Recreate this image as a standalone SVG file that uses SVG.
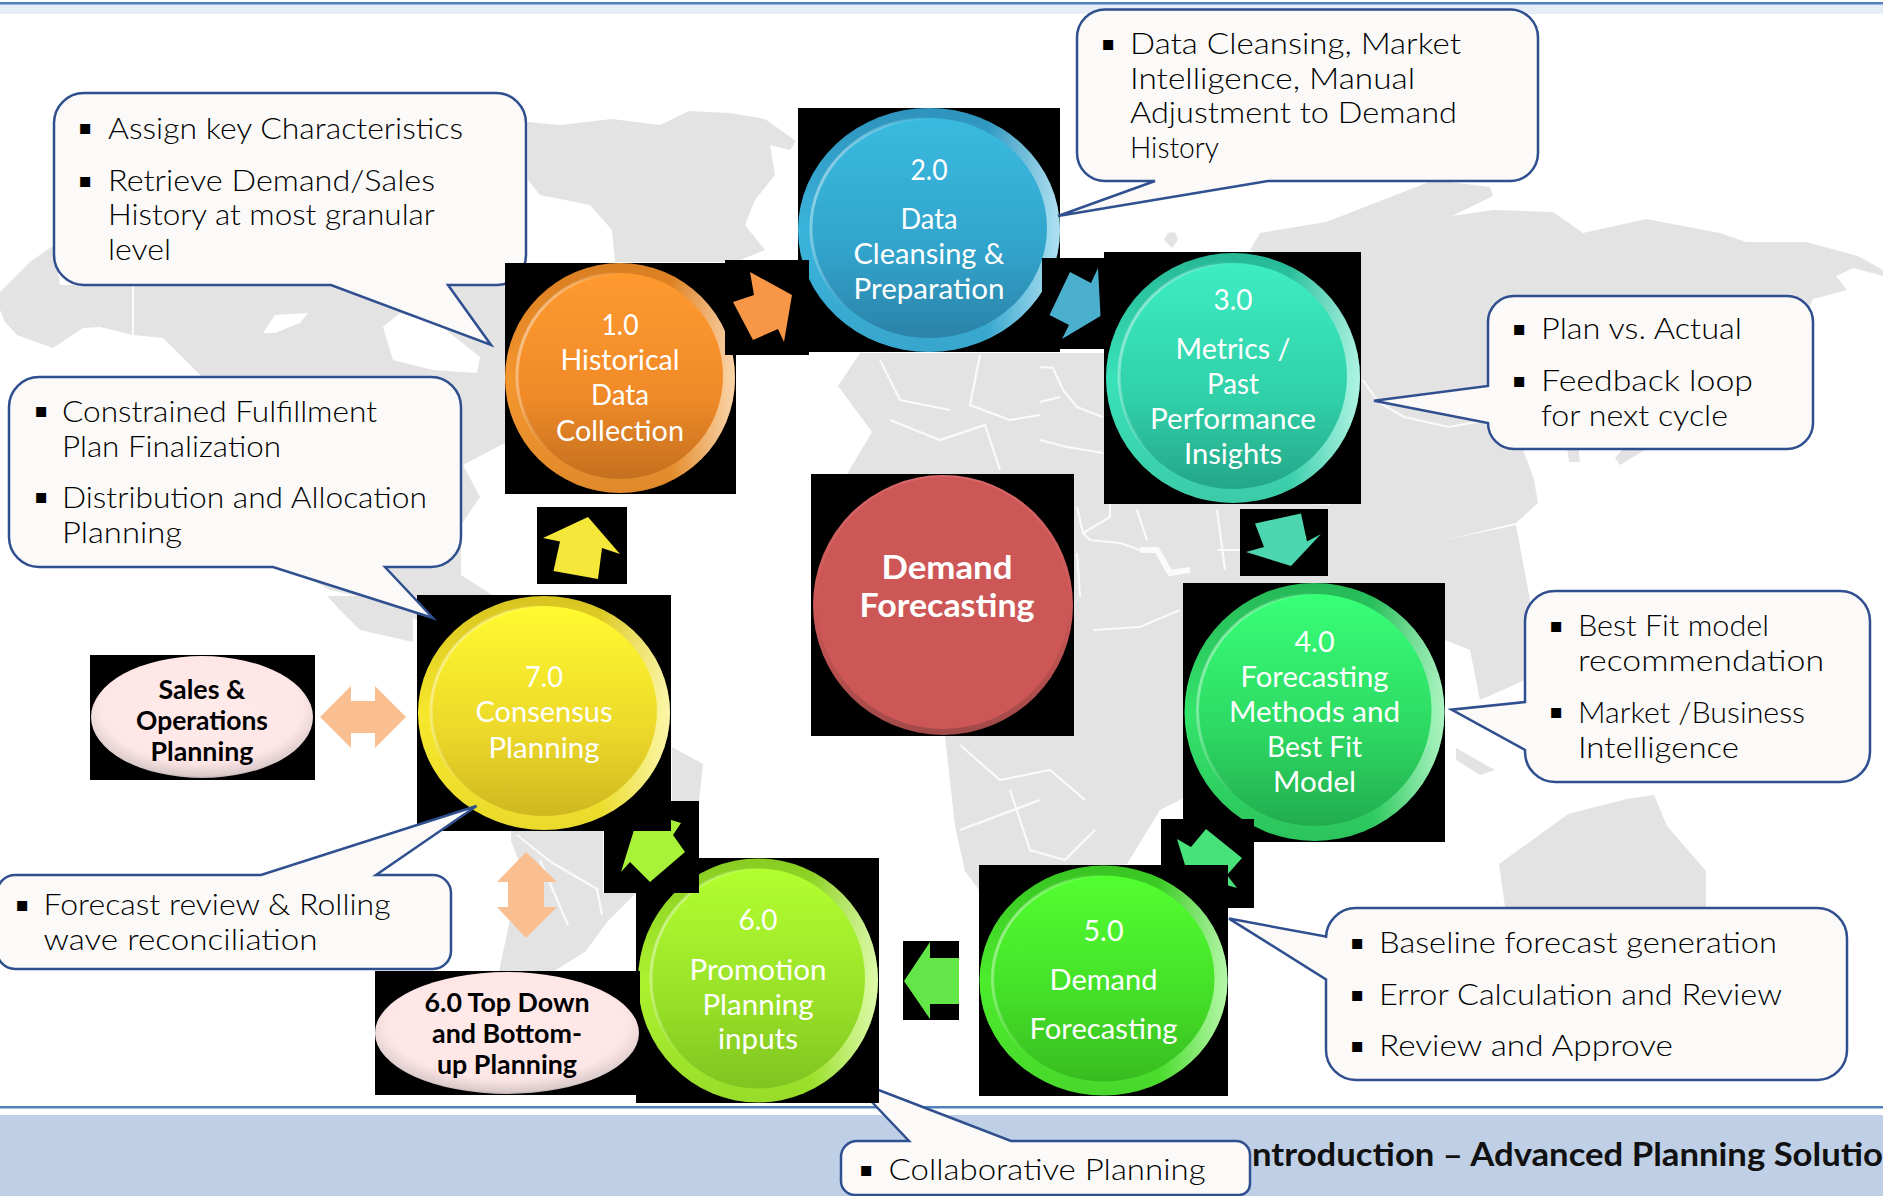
<svg xmlns="http://www.w3.org/2000/svg" width="1883" height="1196" viewBox="0 0 1883 1196">
<style>
.map{fill:#E3E3E3}
.bd{fill:none;stroke:#FAFAFA;stroke-width:2.2}
.co{fill:#FBFAF8;stroke:#2F4F8F;stroke-width:2.5}
.t{font-family:"Lato","Open Sans",sans-serif;font-size:30px;font-weight:300;fill:#000}
.b{font-family:"DejaVu Sans",sans-serif;font-size:20px;fill:#000;text-anchor:middle}
.n{font-family:"Lato","Open Sans",sans-serif;font-size:29px;fill:#fff;text-anchor:middle}
.p{font-family:"Lato","Open Sans",sans-serif;font-size:27px;font-weight:700;fill:#000;text-anchor:middle}
.c{font-family:"Lato","Open Sans",sans-serif;font-size:33px;font-weight:700;fill:#fff;text-anchor:middle}
.f{font-family:"Lato","Open Sans",sans-serif;font-size:33px;font-weight:700;fill:#111}
.k{fill:#000}
.s{fill:none;stroke:url(#shine);stroke-width:3}
.h{fill:url(#rim)}
.r{fill:url(#pink)}
</style>
<defs>
<linearGradient id="shine" x1="0" y1="0.1" x2="1" y2="0.5"><stop offset="0" stop-color="#fff" stop-opacity=".55"/><stop offset=".4" stop-color="#fff" stop-opacity="0"/></linearGradient>
<linearGradient id="rim" x1="0.3" y1="0.5" x2="1" y2="0.5"><stop offset=".6" stop-color="#fff" stop-opacity="0"/><stop offset="1" stop-color="#fff" stop-opacity=".6"/></linearGradient>
<radialGradient id="pink" cx=".5" cy=".42" r=".6"><stop offset="0" stop-color="#FFEAEA"/><stop offset=".76" stop-color="#FFE6E6"/><stop offset=".93" stop-color="#DCCCCC"/><stop offset="1" stop-color="#A89A9A"/></radialGradient>
<linearGradient id="o1" x1="0" y1="0" x2="0" y2="1"><stop offset="0" stop-color="#D97E22"/><stop offset=".5" stop-color="#F4962E"/><stop offset="1" stop-color="#E08A2C"/></linearGradient>
<linearGradient id="i1" x1="0" y1="0" x2="0" y2="1"><stop offset="0" stop-color="#FF9A30"/><stop offset=".6" stop-color="#F08A28"/><stop offset="1" stop-color="#C4701F"/></linearGradient>
<linearGradient id="o2" x1="0" y1="0" x2="0" y2="1"><stop offset="0" stop-color="#2E93BC"/><stop offset=".5" stop-color="#3AB4DC"/><stop offset="1" stop-color="#38A6CC"/></linearGradient>
<linearGradient id="i2" x1="0" y1="0" x2="0" y2="1"><stop offset="0" stop-color="#3ABAE0"/><stop offset=".6" stop-color="#32A4CC"/><stop offset="1" stop-color="#2B82A8"/></linearGradient>
<linearGradient id="o3" x1="0" y1="0" x2="0" y2="1"><stop offset="0" stop-color="#27B896"/><stop offset=".5" stop-color="#38E2B8"/><stop offset="1" stop-color="#3CCBA8"/></linearGradient>
<linearGradient id="i3" x1="0" y1="0" x2="0" y2="1"><stop offset="0" stop-color="#3EEDC2"/><stop offset=".6" stop-color="#30D0A8"/><stop offset="1" stop-color="#24A688"/></linearGradient>
<linearGradient id="o4" x1="0" y1="0" x2="0" y2="1"><stop offset="0" stop-color="#26B858"/><stop offset=".5" stop-color="#33E46A"/><stop offset="1" stop-color="#2CC45C"/></linearGradient>
<linearGradient id="i4" x1="0" y1="0" x2="0" y2="1"><stop offset="0" stop-color="#38FF78"/><stop offset=".6" stop-color="#2DD862"/><stop offset="1" stop-color="#22AC4E"/></linearGradient>
<linearGradient id="o5" x1="0" y1="0" x2="0" y2="1"><stop offset="0" stop-color="#38C422"/><stop offset=".5" stop-color="#4CEC2C"/><stop offset="1" stop-color="#48D82C"/></linearGradient>
<linearGradient id="i5" x1="0" y1="0" x2="0" y2="1"><stop offset="0" stop-color="#52FF30"/><stop offset=".6" stop-color="#44DE28"/><stop offset="1" stop-color="#38BC20"/></linearGradient>
<linearGradient id="o6" x1="0" y1="0" x2="0" y2="1"><stop offset="0" stop-color="#88CC22"/><stop offset=".5" stop-color="#ACF22E"/><stop offset="1" stop-color="#98DC2A"/></linearGradient>
<linearGradient id="i6" x1="0" y1="0" x2="0" y2="1"><stop offset="0" stop-color="#B2FF30"/><stop offset=".6" stop-color="#98E028"/><stop offset="1" stop-color="#80C420"/></linearGradient>
<linearGradient id="o7" x1="0" y1="0" x2="0" y2="1"><stop offset="0" stop-color="#D8C420"/><stop offset=".5" stop-color="#F6E82C"/><stop offset="1" stop-color="#EADA2C"/></linearGradient>
<linearGradient id="i7" x1="0" y1="0" x2="0" y2="1"><stop offset="0" stop-color="#FFFA30"/><stop offset=".6" stop-color="#ECD82A"/><stop offset="1" stop-color="#CFB820"/></linearGradient>
<linearGradient id="o0" x1=".5" y1="0" x2=".5" y2="1"><stop offset="0" stop-color="#D86868"/><stop offset=".5" stop-color="#CD5757"/><stop offset="1" stop-color="#A04A48"/></linearGradient>
</defs>
<rect width="1883" height="1196" fill="#fff"/>
<rect x="0" y="4" width="1883" height="10" fill="#E6EDF7"/>
<rect x="0" y="2" width="1883" height="2.5" fill="#4F81BD"/>
<g id="map">
<path class="map" d="M528,122 L560,125 612,119 660,125 689,111 730,113 765,119 796,141 790,150 770,145 775,175 755,200 745,225 765,250 735,262 615,262 612,230 590,205 540,195 528,180Z"/>
<path class="map" d="M0,292 L30,262 54,245 60,285 505,285 505,443 463,465 480,497 461,525 461,575 500,600 417,620 377,600 330,590 290,568 200,375 163,338 133,335 100,327 83,328 53,348 17,335 5,322 0,310Z"/>
<path class="map" d="M327,596 L413,596 413,642 360,630 340,610Z"/>
<path fill="#fff" d="M383,327 L400,313 440,325 480,357 477,373 433,370 393,360Z"/>
<path fill="#fff" d="M263,333 L275,315 308,313 300,323 275,333Z"/>
<path class="bd" d="M133,285 V335"/>
<path class="map" d="M672,747 L703,764 699,801 672,801Z"/>
<path class="map" d="M511,831 L603,831 603,893 636,893 608,921 585,952 554,971 499,971 508,929 520,864 511,841Z"/>
<path class="bd" d="M517,835 L551,862 597,889 602,915 M540,860 L568,925"/>
<path class="map" d="M860,353 L1104,353 1104,500 1240,500 1330,505 1361,340 1361,290 1250,250 1260,233 1326,222 1357,210 1434,180 1490,187 1493,196 1452,216 1493,210 1553,212 1583,233 1646,219 1720,233 1746,242 1806,242 1858,256 1883,270 1883,276 1854,268 1836,276 1847,290 1813,299 1760,420 1646,410 1612,410 1590,425 1560,431 1519,440 1527,460 1534,480 1538,503 1516,523 1445,540 1445,640 1330,700 1200,790 1160,810 1127,864 982,894 965,871 955,826 945,736 1074,736 1074,474 847,474 872,432 838,386Z"/>
<path class="map" d="M1168,233 L1175,232 1178,240 1172,248 1164,240Z"/>
<path class="map" d="M1445,540 L1516,525 1530,600 1525,680 1480,700 1470,650 1445,640Z"/>
<path class="map" d="M1456,748 L1495,770 1480,775 1456,760Z"/>
<path class="map" d="M1633,437 L1648,432 1645,450 1620,465 1615,458Z"/>
<path class="map" d="M1566,440 L1578,445 1580,462 1569,462Z"/>
<path class="map" d="M1499,864 L1568,814 1627,799 1654,795 1667,826 1706,871 1706,907 1505,907Z"/>
<path class="bd" d="M1363,380 L1378,402 1404,417 1449,427 1482,421 1497,405"/>
<path class="bd" d="M1040,367 L1053,368 1063,390 1077,407 1103,417 M1040,402 L1060,397 M1040,440 L1067,447 1103,453 M880,360 L900,400 950,410 M980,355 L970,405 1010,420 1040,415 M890,420 L940,440 985,425 1000,470 M1077,507 L1083,533 1110,517 1110,500 M1083,533 L1090,540 1120,543 1140,550 M1137,510 L1147,540 M1217,510 L1222,547 1225,570 M1217,550 L1240,550 M1077,553 L1080,597 M1093,630 L1140,627 1180,610 M960,745 L1000,780 1050,770 1085,800 M1010,790 L1030,850 1065,860 1095,830 M960,830 L1040,800"/>
<path d="M1140,550 L1157,550 1170,573 1190,570" fill="none" stroke="#FAFAFA" stroke-width="6"/>
</g>
<rect x="0" y="1115" width="1883" height="81" fill="#BFD0E6"/>
<rect x="0" y="1106" width="1883" height="2.5" fill="#4F81BD"/>
<text class="f" x="1252" y="1166" textLength="631" lengthAdjust="spacingAndGlyphs">ntroduction – Advanced Planning Solutio</text>
<g id="callout-1"><path class="co" d="M84,93 H496 A30,30 0 0 1 526,123 V255 A30,30 0 0 1 496,285 H448 L491,345 L331,285 H84 A30,30 0 0 1 54,255 V123 A30,30 0 0 1 84,93Z"/>
<text class="b" x="85" y="134">▪</text><text class="t" x="108" y="138.500" textLength="355" lengthAdjust="spacingAndGlyphs">Assign key Characteristics</text>
<text class="b" x="85" y="187">▪</text><text class="t" x="108" y="191" textLength="327" lengthAdjust="spacingAndGlyphs">Retrieve Demand/Sales</text>
<text class="t" x="108" y="225" textLength="327" lengthAdjust="spacingAndGlyphs">History at most granular</text>
<text class="t" x="108" y="260" textLength="63" lengthAdjust="spacingAndGlyphs">level</text></g>
<g id="callout-4"><path class="co" d="M1514,296 H1787 A26,26 0 0 1 1813,322 V423 A26,26 0 0 1 1787,449 H1514 A26,26 0 0 1 1488,423 L1374,400.700 L1488,386 V322 A26,26 0 0 1 1514,296Z"/>
<text class="b" x="1519" y="335">▪</text><text class="t" x="1541" y="339" textLength="201" lengthAdjust="spacingAndGlyphs">Plan vs. Actual</text>
<text class="b" x="1519" y="387">▪</text><text class="t" x="1541" y="391" textLength="212" lengthAdjust="spacingAndGlyphs">Feedback loop</text>
<text class="t" x="1541" y="426" textLength="187" lengthAdjust="spacingAndGlyphs">for next cycle</text></g>
<g id="callout-5"><path class="co" d="M1555,591 H1840 A30,30 0 0 1 1870,621 V752 A30,30 0 0 1 1840,782 H1555 A30,30 0 0 1 1525,752 V750 L1451.500,709.700 L1525,702 V621 A30,30 0 0 1 1555,591Z"/>
<text class="b" x="1556" y="632">▪</text><text class="t" x="1578" y="636" textLength="191" lengthAdjust="spacingAndGlyphs">Best Fit model</text>
<text class="t" x="1578" y="671" textLength="246" lengthAdjust="spacingAndGlyphs">recommendation</text>
<text class="b" x="1556" y="718">▪</text><text class="t" x="1578" y="723" textLength="227" lengthAdjust="spacingAndGlyphs">Market /Business</text>
<text class="t" x="1578" y="758" textLength="161" lengthAdjust="spacingAndGlyphs">Intelligence</text></g>
<g id="callout-6"><path class="co" d="M1356,908 H1817 A30,30 0 0 1 1847,938 V1050 A30,30 0 0 1 1817,1080 H1356 A30,30 0 0 1 1326,1050 V979.500 L1229,918.600 L1326,936.600 V938 A30,30 0 0 1 1356,908Z"/>
<text class="b" x="1357" y="949">▪</text><text class="t" x="1379" y="953" textLength="398" lengthAdjust="spacingAndGlyphs">Baseline forecast generation</text>
<text class="b" x="1357" y="1001">▪</text><text class="t" x="1379" y="1005" textLength="403" lengthAdjust="spacingAndGlyphs">Error Calculation and Review</text>
<text class="b" x="1357" y="1052">▪</text><text class="t" x="1379" y="1056" textLength="294" lengthAdjust="spacingAndGlyphs">Review and Approve</text></g>
<g id="callout-7"><path class="co" d="M857,1141 H909 L850,1079 L1011,1141 H1236 A14,14 0 0 1 1250,1155 V1184 A11,11 0 0 1 1239,1195 H855 A14,14 0 0 1 841,1181 V1157 A16,16 0 0 1 857,1141Z"/>
<text class="b" x="866" y="1176">▪</text><text class="t" x="888.500" y="1180" textLength="317" lengthAdjust="spacingAndGlyphs">Collaborative Planning</text></g>
<g id="node-1"><rect class="k" x="505" y="263" width="231" height="231"/><ellipse cx="620" cy="378" rx="115" ry="115" fill="url(#o1)"/><ellipse class="h" cx="620" cy="378" rx="115" ry="115"/><ellipse cx="620" cy="376" rx="103" ry="103" fill="url(#i1)"/><ellipse class="s" cx="620" cy="376" rx="103" ry="103"/>
<text class="n" x="620" y="335" textLength="37" lengthAdjust="spacingAndGlyphs">1.0</text><text class="n" x="620" y="370" textLength="119" lengthAdjust="spacingAndGlyphs">Historical</text><text class="n" x="620" y="405" textLength="58" lengthAdjust="spacingAndGlyphs">Data</text><text class="n" x="620" y="441" textLength="128" lengthAdjust="spacingAndGlyphs">Collection</text></g>
<g id="node-2"><rect class="k" x="798" y="108" width="262" height="244"/><ellipse cx="929" cy="230" rx="131" ry="122" fill="url(#o2)"/><ellipse class="h" cx="929" cy="230" rx="131" ry="122"/><ellipse cx="929" cy="228" rx="118" ry="110" fill="url(#i2)"/><ellipse class="s" cx="929" cy="228" rx="118" ry="110"/>
<text class="n" x="929" y="180" textLength="37" lengthAdjust="spacingAndGlyphs">2.0</text><text class="n" x="929" y="229" textLength="57" lengthAdjust="spacingAndGlyphs">Data</text><text class="n" x="929" y="264" textLength="151" lengthAdjust="spacingAndGlyphs">Cleansing &amp;</text><text class="n" x="929" y="298.500" textLength="151" lengthAdjust="spacingAndGlyphs">Preparation</text></g>
<g id="node-3"><rect class="k" x="1104" y="252" width="257" height="252"/><ellipse cx="1233" cy="378" rx="127" ry="125" fill="url(#o3)"/><ellipse class="h" cx="1233" cy="378" rx="127" ry="125"/><ellipse cx="1233" cy="376" rx="114" ry="113" fill="url(#i3)"/><ellipse class="s" cx="1233" cy="376" rx="114" ry="113"/>
<text class="n" x="1233" y="310" textLength="39" lengthAdjust="spacingAndGlyphs">3.0</text><text class="n" x="1233" y="359" textLength="115" lengthAdjust="spacingAndGlyphs">Metrics /</text><text class="n" x="1233" y="394" textLength="52" lengthAdjust="spacingAndGlyphs">Past</text><text class="n" x="1233" y="429" textLength="166" lengthAdjust="spacingAndGlyphs">Performance</text><text class="n" x="1233" y="464" textLength="98" lengthAdjust="spacingAndGlyphs">Insights</text></g>
<g id="node-center"><rect class="k" x="811" y="474" width="263" height="262"/><ellipse cx="943" cy="605" rx="130" ry="130" fill="url(#o0)"/><ellipse cx="943" cy="603" rx="126" ry="126" fill="#CD5757"/>
<text class="c" x="947" y="579" textLength="131" lengthAdjust="spacingAndGlyphs">Demand</text><text class="c" x="947" y="617" textLength="175" lengthAdjust="spacingAndGlyphs">Forecasting</text></g>
<g id="node-4"><rect class="k" x="1183" y="583" width="262" height="259"/><ellipse cx="1314.500" cy="712" rx="130" ry="129" fill="url(#o4)"/><ellipse class="h" cx="1314.500" cy="712" rx="130" ry="129"/><ellipse cx="1314.500" cy="710" rx="117" ry="116" fill="url(#i4)"/><ellipse class="s" cx="1314.500" cy="710" rx="117" ry="116"/>
<text class="n" x="1314.500" y="652" textLength="40" lengthAdjust="spacingAndGlyphs">4.0</text><text class="n" x="1314.500" y="687" textLength="148" lengthAdjust="spacingAndGlyphs">Forecasting</text><text class="n" x="1314.500" y="722" textLength="171" lengthAdjust="spacingAndGlyphs">Methods and</text><text class="n" x="1314.500" y="757" textLength="95" lengthAdjust="spacingAndGlyphs">Best Fit</text><text class="n" x="1314.500" y="792" textLength="83" lengthAdjust="spacingAndGlyphs">Model</text></g>
<g id="node-6"><rect class="k" x="636" y="858" width="243" height="245"/><ellipse cx="758" cy="980.500" rx="120" ry="122" fill="url(#o6)"/><ellipse class="h" cx="758" cy="980.500" rx="120" ry="122"/><ellipse cx="758" cy="978.500" rx="107" ry="110" fill="url(#i6)"/><ellipse class="s" cx="758" cy="978.500" rx="107" ry="110"/>
<text class="n" x="758" y="930" textLength="39" lengthAdjust="spacingAndGlyphs">6.0</text><text class="n" x="758" y="979.500" textLength="137" lengthAdjust="spacingAndGlyphs">Promotion</text><text class="n" x="758" y="1015" textLength="111" lengthAdjust="spacingAndGlyphs">Planning</text><text class="n" x="758" y="1049" textLength="80" lengthAdjust="spacingAndGlyphs">inputs</text></g>
<g id="connectors">
<rect class="k" x="725" y="260" width="84" height="95"/><polygon points="750,272 792,295 784,342 778,329 753,340 733,302 754,295" fill="#F79646"/>
<rect class="k" x="1042" y="258" width="62" height="91"/><polygon points="1070,272 1091,283 1098,268 1100.500,316 1062,339 1069,325 1049.500,315" fill="#4BB0CE"/>
<rect class="k" x="1240" y="509" width="88" height="67"/><polygon points="1255,523.500 1301,513.600 1307,541.500 1321,534 1291,566 1246,552 1264,547" fill="#4DD6B0"/>
<rect class="k" x="1161" y="819" width="93" height="89"/><polygon points="1177,839 1191,847 1206,829 1242,858 1227,875 1237,888 1212,881 1185,865" fill="#48E27A"/>
<rect class="k" x="604" y="801" width="95" height="92"/><polygon points="621,872 634,830 655,815 681,823 673,835 685,852 650,882 630,862" fill="#A8F23A"/>
<rect class="k" x="537" y="507" width="90" height="77"/><polygon points="588,517 620,554 602,548 598,579 553.500,571 560,541.500 543,538" fill="#F5E83A"/>
<rect class="k" x="903" y="941" width="56" height="79"/><polygon points="904,981 930,942 930,958 959,958 959,1004 930,1004 930,1019" fill="#62E648"/>
<polygon points="320,717 351,686 351,701 375,701 375,686 406,717 375,748 375,733 351,733 351,748" fill="#F9BF90"/>
<polygon points="526,852 557,882 544,882 544,907 557,907 526,938 497,907 508,907 508,882 497,882" fill="#F9BF90"/>
</g>
<g id="node-5"><rect class="k" x="979" y="865" width="249" height="231"/><ellipse cx="1103.500" cy="980.500" rx="124" ry="115" fill="url(#o5)"/><ellipse class="h" cx="1103.500" cy="980.500" rx="124" ry="115"/><ellipse cx="1103.500" cy="978.500" rx="111" ry="103" fill="url(#i5)"/><ellipse class="s" cx="1103.500" cy="978.500" rx="111" ry="103"/>
<text class="n" x="1103.500" y="941" textLength="40" lengthAdjust="spacingAndGlyphs">5.0</text><text class="n" x="1103.500" y="990" textLength="108" lengthAdjust="spacingAndGlyphs">Demand</text><text class="n" x="1103.500" y="1039" textLength="148" lengthAdjust="spacingAndGlyphs">Forecasting</text></g>
<g id="node-7"><rect class="k" x="417" y="595" width="254" height="236"/><ellipse cx="544" cy="713" rx="126" ry="117" fill="url(#o7)"/><ellipse class="h" cx="544" cy="713" rx="126" ry="117"/><ellipse cx="544" cy="711" rx="113" ry="105" fill="url(#i7)"/><ellipse class="s" cx="544" cy="711" rx="113" ry="105"/>
<text class="n" x="544" y="687" textLength="38" lengthAdjust="spacingAndGlyphs">7.0</text><text class="n" x="544" y="722" textLength="137" lengthAdjust="spacingAndGlyphs">Consensus</text><text class="n" x="544" y="757.500" textLength="111" lengthAdjust="spacingAndGlyphs">Planning</text></g>
<g id="callout-2"><path class="co" d="M39,377 H431 A30,30 0 0 1 461,407 V537 A30,30 0 0 1 431,567 H385 L433,618 L273,567 H39 A30,30 0 0 1 9,537 V407 A30,30 0 0 1 39,377Z"/>
<text class="b" x="41" y="417">▪</text><text class="t" x="62" y="421.500" textLength="315" lengthAdjust="spacingAndGlyphs">Constrained Fulfillment</text>
<text class="t" x="62" y="456.500" textLength="219" lengthAdjust="spacingAndGlyphs">Plan Finalization</text>
<text class="b" x="41" y="503">▪</text><text class="t" x="62" y="507.500" textLength="365" lengthAdjust="spacingAndGlyphs">Distribution and Allocation</text>
<text class="t" x="62" y="542.500" textLength="120" lengthAdjust="spacingAndGlyphs">Planning</text></g>
<g id="callout-3"><path class="co" d="M1105,9.500 H1510 A28,28 0 0 1 1538,37.500 V153 A28,28 0 0 1 1510,181 H1268 L1058,216 L1155,181 H1105 A28,28 0 0 1 1077,153 V37.500 A28,28 0 0 1 1105,9.500Z"/>
<text class="b" x="1108" y="50">▪</text><text class="t" x="1130" y="54" textLength="331" lengthAdjust="spacingAndGlyphs">Data Cleansing, Market</text>
<text class="t" x="1130" y="88.500" textLength="285" lengthAdjust="spacingAndGlyphs">Intelligence, Manual</text>
<text class="t" x="1130" y="123" textLength="327" lengthAdjust="spacingAndGlyphs">Adjustment to Demand</text>
<text class="t" x="1130" y="157.500" textLength="89" lengthAdjust="spacingAndGlyphs">History</text></g>
<g id="callout-8"><path class="co" d="M15,875 H261 L476.500,806 L376,875 H433 A18,18 0 0 1 451,893 V951 A18,18 0 0 1 433,969 H15 A18,18 0 0 1 -3,951 V893 A18,18 0 0 1 15,875Z"/>
<text class="b" x="22" y="911">▪</text><text class="t" x="43.500" y="915" textLength="347" lengthAdjust="spacingAndGlyphs">Forecast review &amp; Rolling</text>
<text class="t" x="43.500" y="950" textLength="274" lengthAdjust="spacingAndGlyphs">wave reconciliation</text></g>
<g id="node-sop"><rect class="k" x="90" y="655" width="225" height="125"/><ellipse class="r" cx="202" cy="717" rx="111" ry="61"/>
<text class="p" x="202" y="698.500" textLength="87" lengthAdjust="spacingAndGlyphs">Sales &amp;</text><text class="p" x="202" y="729.500" textLength="132" lengthAdjust="spacingAndGlyphs">Operations</text><text class="p" x="202" y="760.500" textLength="103" lengthAdjust="spacingAndGlyphs">Planning</text></g>
<g id="node-topdown"><rect class="k" x="375" y="971" width="265" height="124"/><ellipse class="r" cx="507" cy="1033" rx="132" ry="61"/>
<text class="p" x="507" y="1012" textLength="165" lengthAdjust="spacingAndGlyphs">6.0 Top Down</text><text class="p" x="507" y="1043" textLength="150" lengthAdjust="spacingAndGlyphs">and Bottom-</text><text class="p" x="507" y="1074" textLength="140" lengthAdjust="spacingAndGlyphs">up Planning</text></g>
</svg>
